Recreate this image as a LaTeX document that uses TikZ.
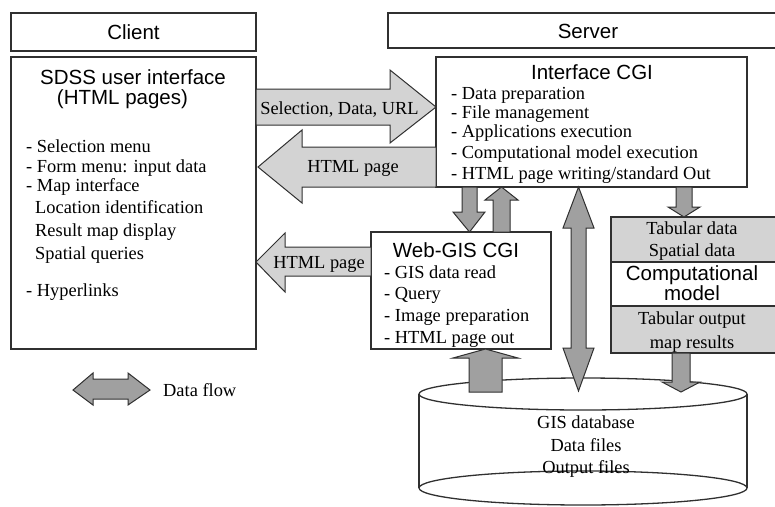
\documentclass[tikz,border=0pt]{standalone}
\usepackage{fontspec}
\setmainfont{Liberation Serif}
\newfontfamily\arialf{Liberation Sans}
\definecolor{lgray}{HTML}{D3D3D3}
\definecolor{dgray}{HTML}{A0A0A0}
\definecolor{edgec}{HTML}{303030}
\tikzset{
  box/.style={draw=edgec, line width=1.3pt, fill=white},
  lbl/.style={inner sep=0pt, text height=12.4pt, text depth=0pt, font=\fontsize{18.4}{20}\selectfont},
  hd/.style={inner sep=0pt, text height=14.8pt, text depth=0pt, font=\arialf\fontsize{20.5}{22}\selectfont},
  harrow/.style={draw=edgec, line width=1pt, fill=lgray, line join=miter},
  varrow/.style={draw=edgec, line width=1pt, fill=dgray, line join=miter},
}
\begin{document}
\begin{tikzpicture}[x=1pt,y=-1pt]
\useasboundingbox (0,0) rectangle (775,506);
\clip (0,0) rectangle (775,506);

% header boxes
\draw[box] (11,13) rectangle (256,51);
\node[hd] (client) at (133.5,32) {Client};
\draw[box] (388,13) rectangle (790,48);
\node[hd] (server) at (588,31) {Server};

% SDSS box
\draw[box] (11,57) rectangle (256,349);
\node[hd] (sdss1) at (133,77) {SDSS user interface};
\node[hd] (sdss2) at (122.5,97) {(HTML pages)};
\node[lbl, anchor=west] (s1) at (26,146) {- Selection menu};
\node[lbl, anchor=west] (s2) at (26,166) {- Form menu: input data};
\node[lbl, anchor=west] (s3) at (26,185) {- Map interface};
\node[lbl, anchor=west] (s4) at (35,207) {Location identification};
\node[lbl, anchor=west] (s5) at (35,230) {Result map display};
\node[lbl, anchor=west] (s6) at (35,253) {Spatial queries};
\node[lbl, anchor=west] (s7) at (26,290) {- Hyperlinks};

% Interface CGI box
\draw[box] (436,57) rectangle (747,187);
\node[hd] (icgi) at (592,72) {Interface CGI};
\node[lbl, anchor=west] (i1) at (451,93) {- Data preparation};
\node[lbl, anchor=west] (i2) at (451,112) {- File management};
\node[lbl, anchor=west] (i3) at (451,131) {- Applications execution};
\node[lbl, anchor=west] (i4) at (451,152) {- Computational model execution};
\node[lbl, anchor=west] (i5) at (451,173) {- HTML page writing/standard Out};

% Web-GIS CGI box
\draw[box] (371,232) rectangle (551,349);
\node[hd] (wgis) at (456,250) {Web-GIS CGI};
\node[lbl, anchor=west] (w1) at (384,272) {- GIS data read};
\node[lbl, anchor=west] (w2) at (384,293) {- Query};
\node[lbl, anchor=west] (w3) at (384,315) {- Image preparation};
\node[lbl, anchor=west] (w4) at (384,337) {- HTML page out};

% right column
\draw[box, fill=lgray] (611,217) rectangle (790,262);
\draw[box] (611,262) rectangle (790,306);
\draw[box, fill=lgray] (611,306) rectangle (790,353);
\node[lbl] (r1) at (692,228) {Tabular data};
\node[lbl] (r2) at (692,250) {Spatial data};
\node[hd] (r3) at (692,273) {Computational};
\node[hd] (r4) at (692,293) {model};
\node[lbl] (r5) at (692,318) {Tabular output};
\node[lbl] (r6) at (692,342) {map results};

% database cylinder
\fill[white] (419,394) rectangle (747,488);
\fill[white] (583,488) ellipse[x radius=164, y radius=17];
\draw[edgec, line width=1.3pt] (419,394) -- (419,488);
\draw[edgec, line width=1.3pt] (747,394) -- (747,488);
\draw[box] (583,488) ellipse[x radius=164, y radius=17];
\draw[box] (583,394) ellipse[x radius=164, y radius=16];
\node[lbl] (d1) at (586,422) {GIS database};
\node[lbl] (d2) at (586,445) {Data files};
\node[lbl] (d3) at (586,467) {Output files};

% horizontal block arrows
\draw[harrow] (256,89) -- (390,89) -- (390,70) -- (436,107) -- (390,143) -- (390,125) -- (256,125) -- cycle;
\node[lbl] (t1) at (339.5,108) {Selection, Data, URL};
\draw[harrow] (436,147) -- (302,147) -- (302,130) -- (258,167) -- (302,203) -- (302,187) -- (436,187) -- cycle;
\node[lbl] (t2) at (353,166) {HTML page};
\draw[harrow] (371,247) -- (285,247) -- (285,233) -- (256,262) -- (285,292) -- (285,276) -- (371,276) -- cycle;
\node[lbl] (t3) at (319,262) {HTML page};

% vertical block arrows
\draw[varrow] (462,187) -- (477,187) -- (477,212) -- (485,212) -- (469.5,232) -- (453,212) -- (462,212) -- cycle;
\draw[varrow] (493,232) -- (493,200) -- (485,200) -- (501.5,187) -- (518,200) -- (510,200) -- (510,232) -- cycle;
\draw[varrow] (578.5,187) -- (594,228) -- (586,228) -- (586,348) -- (594,348) -- (578.5,391) -- (563,348) -- (571,348) -- (571,228) -- (563,228) -- cycle;
\draw[varrow] (676,187) -- (692,187) -- (692,207) -- (700,207) -- (684,217) -- (668,207) -- (676,207) -- cycle;
\draw[varrow] (672,353) -- (690,353) -- (690,382) -- (700,382) -- (681,392) -- (662,382) -- (672,382) -- cycle;
\draw[varrow] (469,392) -- (469,358) -- (453,358) -- (485.5,349) -- (518,358) -- (502,358) -- (502,392) -- cycle;

% legend
\draw[varrow] (73,390) -- (93,373) -- (93,379) -- (128,379) -- (128,373) -- (150,390) -- (128,405) -- (128,399) -- (93,399) -- (93,405) -- cycle;
\node[lbl, anchor=west] (leg) at (163,390) {Data flow};
\end{tikzpicture}
\end{document}
